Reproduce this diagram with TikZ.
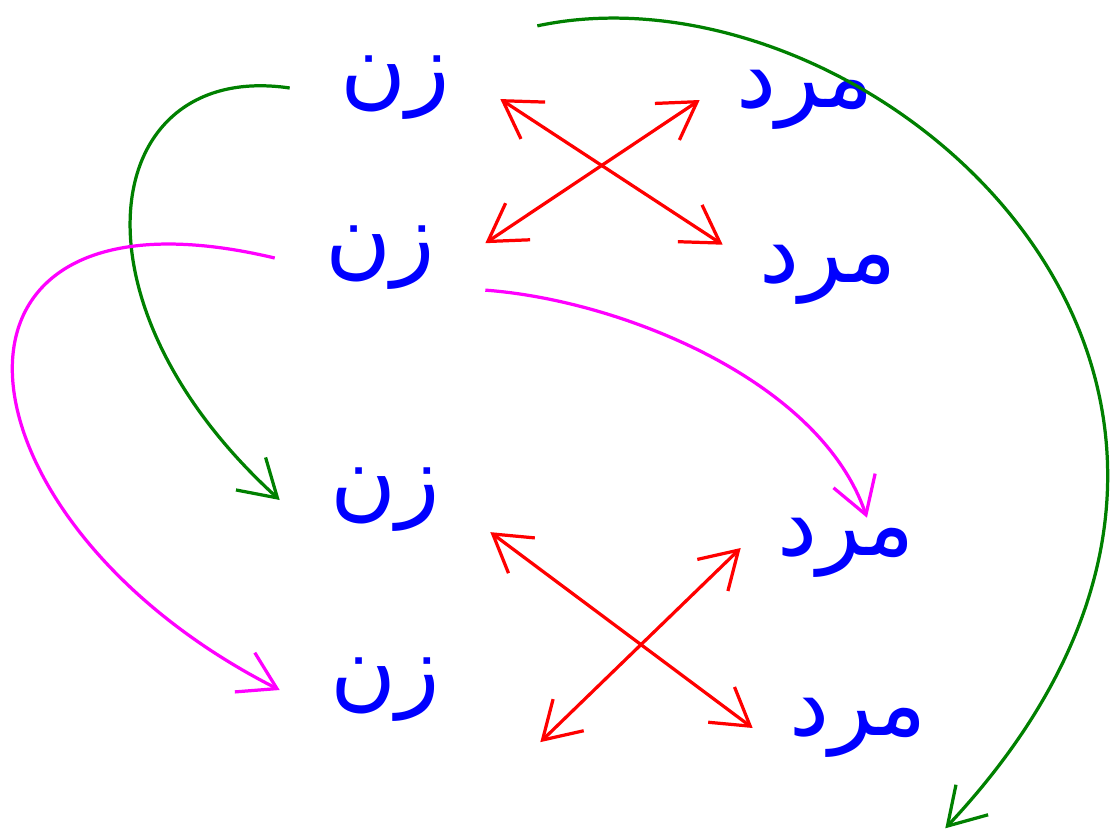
\documentclass[tikz,border=0pt]{standalone}
\usepackage{fontspec}
\newfontfamily\arabicfont[Script=Arabic]{DejaVu Sans}
\TeXXeTstate=1
\usetikzlibrary{arrows.meta,calc}
\definecolor{InkBlue}{RGB}{0,0,255}
\definecolor{InkRed}{RGB}{255,0,0}
\definecolor{InkGreen}{RGB}{0,128,0}
\definecolor{InkPink}{RGB}{255,0,255}

\begin{document}
\begin{tikzpicture}[x=0.025cm, y=-0.025cm,
  word/.style={text=InkBlue, inner sep=0pt, minimum width=5.25cm, minimum height=1.5cm,
    font=\arabicfont\fontsize{64}{70}\selectfont},
  cross/.style={{Straight Barb[length=9mm,width=11mm]}-{Straight Barb[length=9mm,width=11mm]},
    line width=2.3pt, InkRed},
  greenarc/.style={-{Straight Barb[length=9mm,width=11mm]}, line width=2.3pt, InkGreen},
  pinkarc/.style={-{Straight Barb[length=9mm,width=11mm]}, line width=2.3pt, InkPink}]
  \useasboundingbox (0,0) rectangle (1116,835);
  \node[word] (zanA) at (395,88) {\beginR زن\endR};
  \node[word] (zanB) at (380,258) {\beginR زن\endR};
  \node[word] (zanC) at (385,500) {\beginR زن\endR};
  \node[word] (zanD) at (385,690) {\beginR زن\endR};
  \node[word] (mardA) at (805,100) {\beginR مرد\endR};
  \node[word] (mardB) at (828,275) {\beginR مرد\endR};
  \node[word] (mardC) at (846,548) {\beginR مرد\endR};
  \node[word] (mardD) at (858,728) {\beginR مرد\endR};
  % red crosses
  \draw[cross] (zanA.-6) -- (mardB.north west);
  \draw[cross] (zanB.8) -- (mardA.west);
  \draw[cross] (zanC.south east) -- (mardD.west);
  \draw[cross] ([shift={(50,20)}]zanD.south east) -- (mardC.west);
  % long arcs
  \draw[greenarc] (zanA.west) .. controls (100,60) and (60,300) .. (zanC.west);
  \draw[greenarc] ([shift={(37,-30)}]zanA.north east) .. controls (870,-45) and (1365,380)
    .. ([shift={(-18,70)}]mardD.south east);
  \draw[pinkarc] (zanB.west) .. controls (-95,170) and (-55,520) .. (zanD.west);
  \draw[pinkarc] (zanB.south east) .. controls (620,300) and (820,380)
    .. ([xshift=-60]mardC.north east);
\end{tikzpicture}
\end{document}
